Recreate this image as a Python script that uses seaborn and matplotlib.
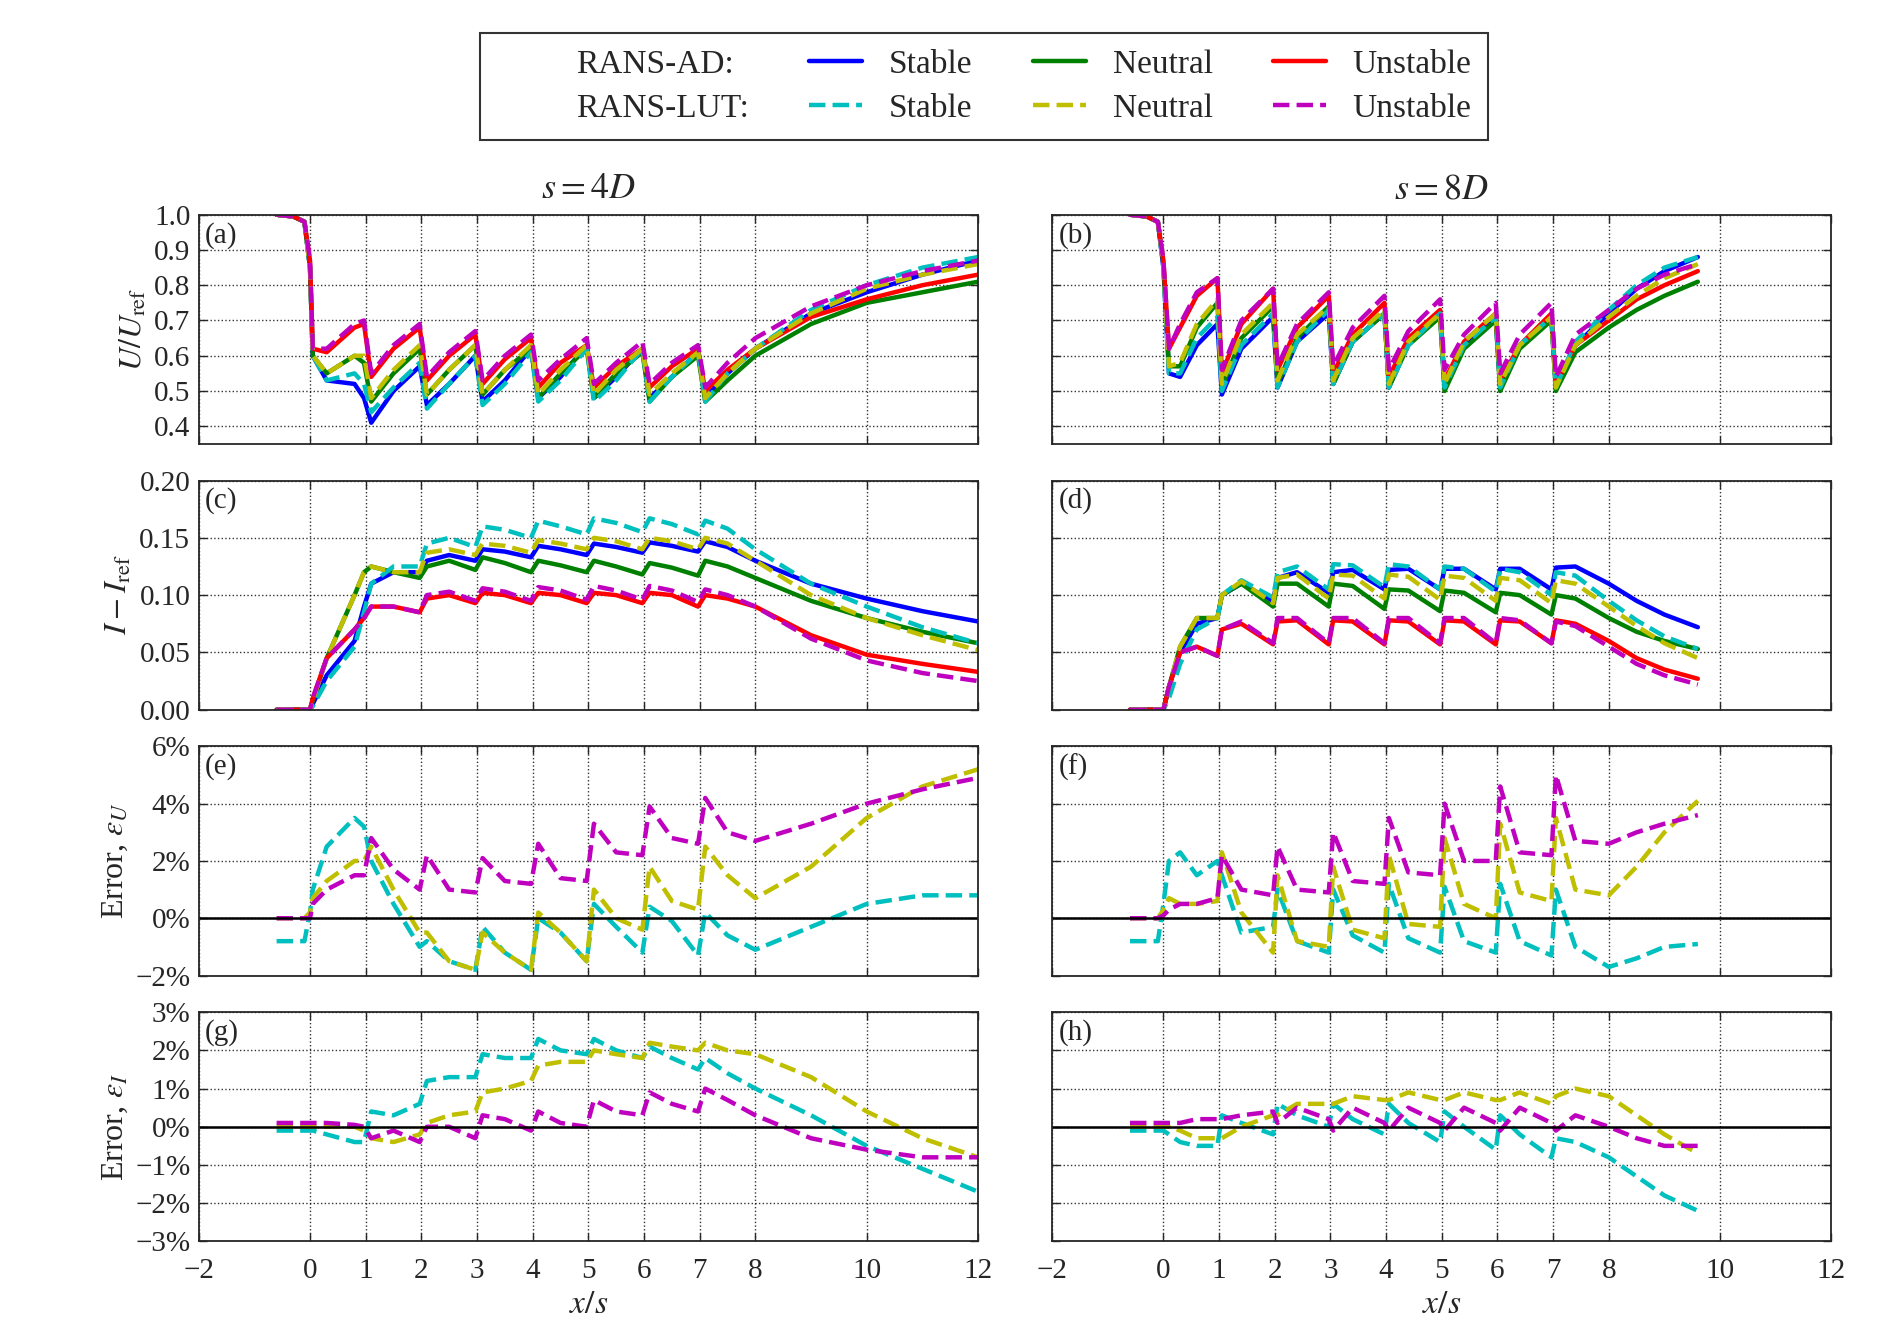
import numpy as np
import matplotlib
matplotlib.use("Agg")
import matplotlib.pyplot as plt
import seaborn as sns
from matplotlib.lines import Line2D
from matplotlib.ticker import FuncFormatter

# x grids (x/s) for the s=4D and s=8D columns
x_4d = [-0.6, -0.3, -0.1, 0, 0.05, 0.3, 0.8, 0.97, 1.1, 1.5, 1.97, 2.1, 2.5, 2.97, 3.1, 3.5, 3.97,
        4.1, 4.5, 4.97, 5.1, 5.5, 5.97, 6.1, 6.5, 6.97, 7.1, 7.5, 8, 9, 10, 11, 12]
x_8d = [-0.6, -0.3, -0.1, 0, 0.1, 0.3, 0.6, 0.97, 1.05, 1.4, 1.97, 2.05, 2.4, 2.97, 3.05, 3.4, 3.97,
        4.05, 4.4, 4.97, 5.05, 5.4, 5.97, 6.05, 6.4, 6.97, 7.05, 7.4, 8, 8.5, 9, 9.6]

# (a) U/Uref, s=4D
u4_ad_stable = [1, .995, .98, .85, .6, .53, .52, .48, .41, .50, .57, .46, .52, .60, .47, .53, .62, .48, .54, .63, .48, .54, .62, .48, .54, .61, .48, .55, .62, .72, .78, .83, .87]
u4_ad_neutral = [1, .995, .98, .85, .6, .55, .60, .58, .47, .55, .62, .49, .56, .63, .49, .56, .62, .48, .55, .62, .48, .55, .61, .47, .54, .60, .47, .53, .60, .69, .75, .78, .81]
u4_ad_unstable = [1, .995, .98, .87, .62, .61, .68, .69, .54, .62, .68, .53, .60, .66, .52, .59, .65, .51, .58, .63, .51, .57, .62, .51, .57, .62, .50, .56, .62, .71, .76, .80, .83]
u4_lut_stable = [1, .995, .98, .85, .6, .53, .55, .52, .44, .51, .58, .45, .52, .60, .46, .52, .61, .47, .53, .62, .47, .53, .62, .47, .54, .61, .47, .55, .62, .73, .80, .85, .88]
u4_lut_neutral = [1, .995, .98, .85, .6, .55, .60, .60, .48, .56, .63, .49, .56, .63, .49, .56, .63, .49, .56, .63, .49, .56, .62, .49, .55, .61, .48, .55, .62, .72, .79, .83, .86]
u4_lut_unstable = [1, .995, .98, .87, .62, .62, .69, .70, .55, .63, .69, .54, .61, .67, .53, .60, .66, .53, .59, .65, .52, .58, .64, .52, .58, .63, .51, .58, .65, .74, .80, .84, .87]

# (b) U/Uref, s=8D
u8_ad_stable = [1, .995, .98, .85, .55, .54, .63, .69, .49, .62, .71, .51, .64, .72, .52, .64, .72, .51, .64, .72, .51, .63, .71, .51, .63, .71, .51, .63, .72, .79, .84, .88]
u8_ad_neutral = [1, .995, .98, .86, .57, .57, .68, .75, .51, .65, .74, .52, .65, .74, .52, .64, .72, .51, .63, .71, .50, .62, .70, .50, .62, .70, .50, .61, .68, .73, .77, .81]
u8_ad_unstable = [1, .995, .98, .87, .62, .68, .77, .82, .55, .69, .79, .56, .68, .77, .55, .66, .75, .54, .65, .73, .53, .64, .72, .53, .63, .72, .52, .63, .70, .76, .80, .84]
u8_lut_stable = [1, .995, .98, .85, .55, .55, .65, .71, .50, .63, .72, .51, .64, .73, .52, .64, .72, .51, .63, .72, .51, .63, .71, .51, .63, .71, .51, .64, .73, .80, .85, .88]
u8_lut_neutral = [1, .995, .98, .86, .57, .58, .69, .76, .52, .66, .75, .53, .66, .74, .53, .65, .73, .52, .64, .72, .52, .64, .72, .52, .63, .71, .51, .63, .71, .77, .82, .86]
u8_lut_unstable = [1, .995, .98, .87, .62, .69, .78, .82, .56, .70, .79, .57, .69, .78, .57, .68, .77, .56, .67, .76, .56, .66, .75, .55, .66, .75, .54, .66, .73, .79, .83, .86]

# (c) I - Iref, s=4D
i4_ad_stable = [0, 0, 0, 0, .005, .03, .06, .09, .11, .12, .12, .13, .135, .13, .14, .138, .133, .143, .14, .135, .145, .142, .137, .146, .143, .138, .147, .142, .13, .11, .097, .086, .077]
i4_ad_neutral = [0, 0, 0, 0, .008, .045, .10, .12, .125, .12, .115, .125, .13, .122, .133, .128, .12, .13, .126, .12, .13, .125, .118, .128, .124, .117, .13, .125, .115, .095, .08, .068, .058]
i4_ad_unstable = [0, 0, 0, 0, .01, .045, .07, .08, .09, .09, .085, .097, .1, .093, .102, .1, .093, .102, .1, .093, .102, .1, .093, .102, .1, .09, .1, .097, .09, .065, .048, .04, .033]
i4_lut_stable = [0, 0, 0, 0, .003, .025, .055, .085, .11, .125, .125, .145, .15, .142, .16, .157, .15, .165, .16, .153, .167, .163, .155, .167, .162, .153, .165, .158, .14, .11, .09, .072, .058]
i4_lut_neutral = [0, 0, 0, 0, .008, .045, .10, .12, .125, .12, .12, .137, .14, .135, .145, .143, .137, .148, .145, .14, .15, .147, .14, .15, .147, .14, .15, .145, .13, .1, .08, .065, .052]
i4_lut_unstable = [0, 0, 0, 0, .01, .045, .07, .08, .09, .09, .085, .1, .103, .095, .106, .103, .095, .107, .104, .096, .108, .104, .096, .108, .104, .094, .105, .1, .09, .062, .043, .032, .025]

# (d) I - Iref, s=8D
i8_ad_stable = [0, 0, 0, 0, .02, .05, .075, .08, .1, .11, .095, .115, .12, .102, .12, .122, .105, .122, .123, .105, .123, .123, .105, .123, .123, .105, .124, .125, .11, .095, .083, .072]
i8_ad_neutral = [0, 0, 0, 0, .02, .055, .08, .08, .1, .11, .09, .11, .11, .09, .11, .108, .088, .105, .104, .086, .104, .102, .085, .102, .1, .083, .1, .097, .08, .068, .06, .053]
i8_ad_unstable = [0, 0, 0, 0, .02, .05, .055, .047, .07, .075, .057, .077, .078, .057, .078, .077, .057, .078, .077, .057, .078, .077, .057, .078, .077, .058, .078, .075, .06, .045, .035, .027]
i8_lut_stable = [0, 0, 0, 0, .01, .04, .07, .08, .1, .113, .098, .12, .125, .105, .127, .126, .107, .127, .125, .105, .125, .123, .103, .123, .12, .1, .12, .117, .095, .078, .064, .053]
i8_lut_neutral = [0, 0, 0, 0, .02, .055, .08, .08, .1, .112, .093, .115, .118, .097, .118, .117, .097, .118, .116, .096, .117, .115, .095, .115, .113, .093, .113, .11, .09, .073, .058, .045]
i8_lut_unstable = [0, 0, 0, 0, .02, .05, .055, .047, .07, .077, .058, .08, .08, .058, .08, .08, .058, .08, .08, .058, .08, .08, .058, .08, .078, .058, .077, .073, .055, .04, .03, .022]

# (e) error in U (%), s=4D
eu4_stable = [-.8, -.8, -.8, .2, 1.0, 2.5, 3.5, 3.2, 2.0, .5, -1.0, -.8, -1.5, -1.8, -.3, -1.2, -1.8, 0, -.5, -1.5, .5, -.3, -1.2, .4, -.1, -1.3, .2, -.6, -1.1, -.3, .5, .8, .8]
eu4_neutral = [0, 0, 0, .2, .7, 1.3, 2.0, 2.0, 2.5, 1.0, -.5, -.5, -1.5, -1.8, -.5, -1.2, -1.8, .2, -.5, -1.5, 1.0, 0, -.4, 1.8, .6, .3, 2.5, 1.5, .7, 1.8, 3.5, 4.6, 5.2]
eu4_unstable = [0, 0, 0, 0, .5, 1.0, 1.5, 1.5, 2.8, 1.7, 1.0, 2.2, 1.0, .9, 2.1, 1.3, 1.2, 2.6, 1.4, 1.3, 3.3, 2.3, 2.2, 3.9, 2.8, 2.6, 4.2, 3.0, 2.7, 3.3, 4.0, 4.5, 4.9]

# (f) error in U (%), s=8D
eu8_stable = [-.8, -.8, -.8, .5, 2.0, 2.3, 1.5, 2.0, 1.5, -.5, -.3, 1.0, -.8, -1.2, 1.0, -.6, -1.2, 1.2, -.7, -1.2, 1.1, -.8, -1.2, 1.2, -.8, -1.3, 1.0, -1.0, -1.7, -1.4, -1.0, -.9]
eu8_neutral = [0, 0, 0, .3, .7, .5, .5, .6, 2.3, .2, -1.2, 1.5, -.8, -1.0, 1.8, -.4, -.7, 2.2, -.2, -.3, 2.8, .5, 0, 3.3, .9, .6, 3.5, 1.0, .8, 1.8, 3.0, 4.1]
eu8_unstable = [0, 0, 0, .1, .3, .5, .5, .7, 2.2, 1.0, .8, 2.5, 1.0, .9, 3.0, 1.3, 1.2, 3.5, 1.6, 1.5, 4.0, 2.0, 2.0, 4.6, 2.3, 2.2, 5.0, 2.7, 2.6, 3.0, 3.3, 3.6]

# (g) error in I (%), s=4D
ei4_stable = [-.1, -.1, -.1, -.1, -.1, -.2, -.4, -.4, .4, .3, .6, 1.2, 1.3, 1.3, 1.9, 1.8, 1.8, 2.3, 2.0, 1.9, 2.3, 2.0, 1.8, 2.1, 1.8, 1.5, 1.8, 1.4, 1.0, .3, -.5, -1.1, -1.7]
ei4_neutral = [0, 0, 0, 0, 0, 0, 0, -.1, -.3, -.4, -.2, .1, .3, .4, .9, 1.0, 1.2, 1.6, 1.7, 1.7, 2.0, 1.9, 1.8, 2.2, 2.1, 2.0, 2.2, 2.0, 1.9, 1.3, .4, -.3, -.8]
ei4_unstable = [.1, .1, .1, .1, .1, .1, .05, 0, -.3, -.1, -.4, 0, 0, -.3, .3, .2, -.1, .4, .1, 0, .7, .4, .3, .9, .6, .4, 1.0, .7, .3, -.3, -.6, -.8, -.8]

# (h) error in I (%), s=8D
ei8_stable = [-.1, -.1, -.1, -.1, -.2, -.4, -.5, -.5, .3, .1, -.2, .6, .3, 0, .6, .2, -.2, .6, .1, -.4, .4, 0, -.6, .3, -.2, -.8, -.3, -.4, -.8, -1.3, -1.8, -2.2]
ei8_neutral = [0, 0, 0, 0, 0, -.1, -.3, -.3, -.3, 0, .3, .3, .6, .6, .6, .8, .7, .7, .9, .7, .7, .9, .7, .7, .9, .6, .8, 1.0, .8, .3, -.2, -.7]
ei8_unstable = [.1, .1, .1, .1, .1, .1, .2, .2, .2, .3, .4, .1, .5, .2, -.1, .5, .1, -.1, .5, .1, -.1, .5, .1, -.1, .5, .1, -.1, .3, 0, -.3, -.5, -.5]

AD_COLORS = ["b", "g", "r"]
LUT_COLORS = ["c", "y", "m"]
LW = 3.2

sns.set_style("ticks")
plt.rcParams["font.family"] = ["Liberation Serif", "DejaVu Serif"]
plt.rcParams["mathtext.fontset"] = "stix"
plt.rcParams["font.size"] = 21
plt.rcParams["xtick.direction"] = "in"
plt.rcParams["ytick.direction"] = "in"
plt.rcParams["xtick.top"] = True
plt.rcParams["ytick.right"] = True

fig, axes = plt.subplots(4, 2, figsize=(18.92, 13.42), dpi=100)
fig.subplots_adjust(left=0.105, right=0.968, top=0.84, bottom=0.075, wspace=0.095, hspace=0.16)

pct = FuncFormatter(lambda v, p: f"{v:.0f}%".replace("-", "\u2212"))


def draw(ax, x, ad, lut):
    for y, c in zip(ad, AD_COLORS):
        sns.lineplot(x=x, y=y, ax=ax, color=c, lw=LW, sort=False)
    for y, c in zip(lut, LUT_COLORS):
        sns.lineplot(x=x, y=y, ax=ax, color=c, lw=LW, ls="--", sort=False)


draw(axes[0, 0], x_4d, [u4_ad_stable, u4_ad_neutral, u4_ad_unstable], [u4_lut_stable, u4_lut_neutral, u4_lut_unstable])
draw(axes[0, 1], x_8d, [u8_ad_stable, u8_ad_neutral, u8_ad_unstable], [u8_lut_stable, u8_lut_neutral, u8_lut_unstable])
draw(axes[1, 0], x_4d, [i4_ad_stable, i4_ad_neutral, i4_ad_unstable], [i4_lut_stable, i4_lut_neutral, i4_lut_unstable])
draw(axes[1, 1], x_8d, [i8_ad_stable, i8_ad_neutral, i8_ad_unstable], [i8_lut_stable, i8_lut_neutral, i8_lut_unstable])
draw(axes[2, 0], x_4d, [], [eu4_stable, eu4_neutral, eu4_unstable])
draw(axes[2, 1], x_8d, [], [eu8_stable, eu8_neutral, eu8_unstable])
draw(axes[3, 0], x_4d, [], [ei4_stable, ei4_neutral, ei4_unstable])
draw(axes[3, 1], x_8d, [], [ei8_stable, ei8_neutral, ei8_unstable])

ylims = [(0.35, 1.0), (0, 0.2), (-2, 6), (-3, 3)]
yticks = [np.arange(0.4, 1.01, 0.1), np.arange(0, 0.201, 0.05), np.arange(-2, 6.1, 2), np.arange(-3, 3.1, 1)]
ylabels = [r"$U/U_{\rm ref}$", r"$I-I_{\rm ref}$", r"Error, $\epsilon_U$", r"Error, $\epsilon_I$"]
letters = "abcdefgh"
xt = [-2, 0, 1, 2, 3, 4, 5, 6, 7, 8, 10, 12]

for r in range(4):
    for c in range(2):
        ax = axes[r, c]
        ax.set_xlim(-2, 12)
        ax.set_ylim(*ylims[r])
        ax.set_yticks(yticks[r])
        ax.set_xticks(xt)
        ax.grid(True, ls=":", color="k", lw=1, alpha=0.8)
        ax.tick_params(length=6, width=1, labelsize=21)
        ax.tick_params(axis="x", pad=12)
        ax.tick_params(axis="y", pad=6)
        for s in ax.spines.values():
            s.set_linewidth(1.3)
        if r >= 2:
            ax.axhline(0, color="k", lw=1.8)
            ax.yaxis.set_major_formatter(pct)
        elif r == 0:
            ax.yaxis.set_major_formatter(FuncFormatter(lambda v, p: f"{v:.1f}"))
        else:
            ax.yaxis.set_major_formatter(FuncFormatter(lambda v, p: f"{v:.2f}"))
        ax.text(0.008, 0.97, f"({letters[2 * r + c]})", transform=ax.transAxes, va="top", ha="left", fontsize=21)
        if c == 0:
            ax.set_ylabel(ylabels[r], fontsize=23)
        else:
            ax.set_ylabel("")
            ax.set_yticklabels([])
        if r == 3:
            ax.set_xlabel(r"$x/s$", fontsize=24)
            ax.set_xticklabels([str(v).replace("-", "\u2212") for v in xt])
        else:
            ax.set_xlabel("")
            ax.set_xticklabels([])

axes[0, 0].set_title(r"$s=4D$", fontsize=26, pad=12)
axes[0, 1].set_title(r"$s=8D$", fontsize=26, pad=12)

blank = Line2D([], [], color="none")
handles = [blank, blank,
           Line2D([], [], color="b", lw=LW), Line2D([], [], color="c", lw=LW, ls="--"),
           Line2D([], [], color="g", lw=LW), Line2D([], [], color="y", lw=LW, ls="--"),
           Line2D([], [], color="r", lw=LW), Line2D([], [], color="m", lw=LW, ls="--")]
labels = ["RANS-AD:", "RANS-LUT:", "Stable", "Stable", "Neutral", "Neutral", "Unstable", "Unstable"]
leg = fig.legend(handles, labels, ncol=4, loc="upper center", bbox_to_anchor=(0.52, 0.988),
                 fontsize=24, frameon=True, fancybox=False, edgecolor="k",
                 handlelength=1.6, columnspacing=1.8, borderpad=0.5, labelspacing=0.4)
leg.get_frame().set_linewidth(1.5)

fig.savefig("out.png", dpi=100)
